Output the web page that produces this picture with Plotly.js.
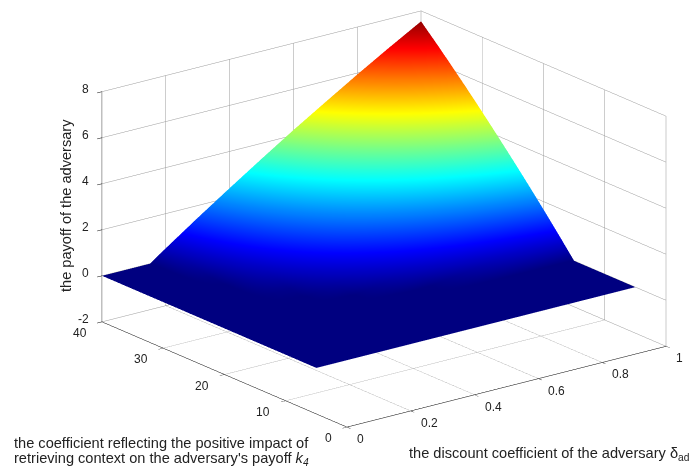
<!DOCTYPE html>
<html><head><meta charset="utf-8">
<script src="https://cdn.plot.ly/plotly-3.0.1.min.js"></script>
<style>html,body{margin:0;padding:0;background:#fff}#c{width:689px;height:470px}</style></head>
<body><div id="c"></div>
<script>
const deltaValues=[0,0.05,0.1,0.15,0.2,0.3,0.4,0.5,0.6,0.7,0.8,0.9,1];
const kValues=[5,10,15,17.5,20,22.5,25,27.5,30,32.5,35,37.5,40];
const payoff=[
[0,0,0,0,0,0,0,0,0,0,0,0,0],
[0,0,0,0,0,0,0,0,0,0,0,0,0],
[0,0,0,0,0,0,0,0,0,0,0,0,0],
[0,0,0,0,0,0,0,0,0.03,0.23,0.44,0.64,0.84],
[0,0,0,0,0,0,0,0.23,0.52,0.81,1.09,1.37,1.66],
[0,0,0,0,0,0,0.26,0.63,1.01,1.37,1.74,2.10,2.46],
[0,0,0,0,0,0.11,0.57,1.03,1.48,1.93,2.37,2.81,3.24],
[0,0,0,0,0,0.34,0.89,1.43,1.96,2.48,3.00,3.50,4.00],
[0,0,0,0,0,0.57,1.20,1.82,2.42,3.02,3.61,4.18,4.75],
[0,0,0,0,0.07,0.80,1.51,2.20,2.88,3.55,4.21,4.85,5.48],
[0,0,0,0,0.22,1.02,1.81,2.58,3.34,4.07,4.80,5.50,6.19],
[0,0,0,0,0.36,1.25,2.11,2.96,3.78,4.59,5.37,6.14,6.88],
[0,0,0,0,0.50,1.47,2.41,3.33,4.23,5.09,5.94,6.76,7.55]
];
const xTicks=[0,0.2,0.4,0.6,0.8,1];
const yTicks=[0,10,20,30,40];
const zTicks=[-2,0,2,4,6,8];
const xLabel="the discount coefficient of the adversary δ<sub>ad</sub>";
const yLabelLine1="the coefficient reflecting the positive impact of";
const yLabelLine2="retrieving context on the adversary's payoff <i>k</i><sub><i>4</i></sub>";
const zLabel="the payoff of the adversary";
const jet=[[0,'rgb(0,0,128)'],[0.125,'rgb(0,0,255)'],[0.375,'rgb(0,255,255)'],[0.625,'rgb(255,255,0)'],[0.875,'rgb(255,0,0)'],[1,'rgb(128,0,0)']];
const tickFont={family:'Liberation Sans',size:12,color:'#222'};
const titleFont={family:'Liberation Sans',size:14.6,color:'#222'};
function ax(range,ticks){return {range:range,tickmode:'array',tickvals:ticks,autorange:false,showticklabels:false,
 title:{text:''},showbackground:false,showspikes:false,showgrid:true,gridcolor:'#9a9a9a',gridwidth:1,zeroline:false,
 showline:true,linecolor:'#000',linewidth:1,ticks:'outside',ticklen:6,tickcolor:'#000'};}
function tickNote(x,y,z,v,xanchor,xshift,yshift){return {x:x,y:y,z:z,text:String(v),showarrow:false,xanchor:xanchor,yanchor:'middle',xshift:xshift,yshift:yshift,font:tickFont};}
const sceneNotes=[
 ...xTicks.map(v=>tickNote(v,0,-2,v,'left',8,-12)),
 ...yTicks.map(v=>tickNote(0,v,-2,v,'right',-13.5,-11)),
 ...zTicks.map(v=>tickNote(0,40,v,v,'right',-11.5,3))
];
const s=3;
const k=1.837;
const layout={width:689,height:470,margin:{l:0,r:0,t:0,b:0},paper_bgcolor:'#fff',showlegend:false,
 scene:{domain:{x:[0.115,1],y:[0.068,1]},aspectmode:'manual',aspectratio:{x:k,y:k,z:0.606*k},
  camera:{eye:{x:-0.575*s,y:-0.749*s,z:0.33*s},center:{x:0,y:0,z:0},up:{x:0,y:0,z:1},projection:{type:'orthographic'}},
  xaxis:ax([0,1],xTicks),yaxis:ax([0,40],yTicks),zaxis:ax([-2,8],zTicks),annotations:sceneNotes},
 annotations:[
 {xref:'paper',yref:'paper',x:549/689,y:1-454/470,xanchor:'center',yanchor:'middle',text:xLabel,showarrow:false,font:titleFont},
 {xref:'paper',yref:'paper',x:161.5/689,y:1-443/470,xanchor:'center',yanchor:'middle',text:yLabelLine1,showarrow:false,font:titleFont},
 {xref:'paper',yref:'paper',x:161.5/689,y:1-459/470,xanchor:'center',yanchor:'middle',text:yLabelLine2,showarrow:false,font:titleFont},
 {xref:'paper',yref:'paper',x:66/689,y:1-206/470,xanchor:'center',yanchor:'middle',text:zLabel,textangle:-90,showarrow:false,font:titleFont}
 ]};
Plotly.newPlot('c',[{type:'surface',x:deltaValues,y:kValues,z:payoff,colorscale:jet,cmin:0,cmax:7.7,showscale:false,hoverinfo:'skip',
 lighting:{ambient:1,diffuse:0,specular:0,roughness:1,fresnel:0},contours:{x:{show:false},y:{show:false},z:{show:false}}}],layout,{displayModeBar:false});
</script></body></html>
